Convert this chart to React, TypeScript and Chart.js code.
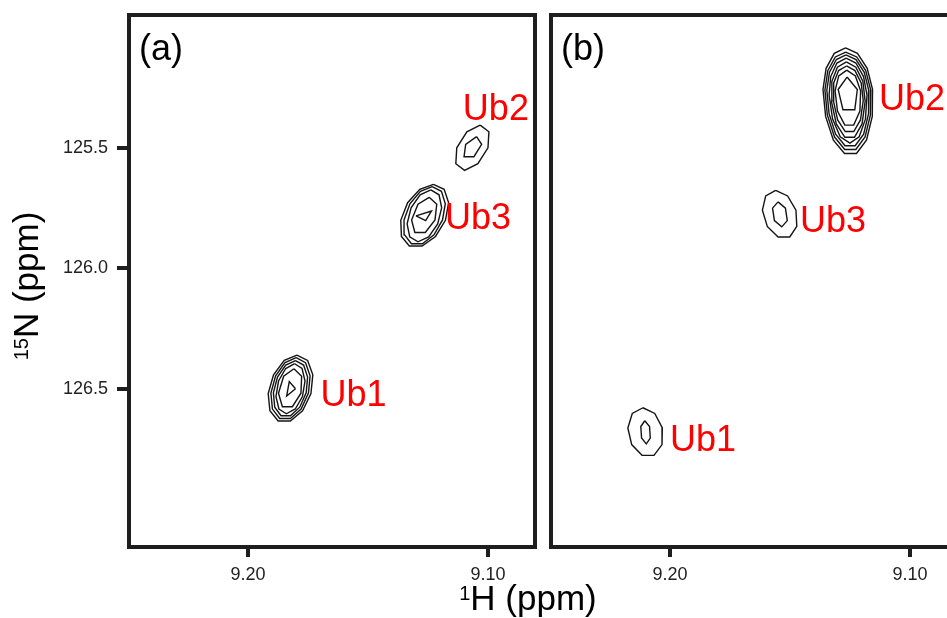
import React, { useEffect, useRef } from "react";
import { Chart, registerables } from "chart.js";

Chart.register(...registerables);

// ---- axis windows and ticks (ppm) ----
const H_MIN = 9.0804;
const H_MAX = 9.2496;
const N_MIN = 124.946;
const N_MAX = 127.158;
const H_TICKS = [9.2, 9.1];
const H_TICK_LABELS = ["9.20", "9.10"];
const N_TICKS = [125.5, 126.0, 126.5];
const N_TICK_LABELS = ["125.5", "126.0", "126.5"];

const PEAK_NAMES = ["Ub1", "Ub2", "Ub3"];

// ---- spectrum (a): peak centres (1H, 15N) and lean of the contours ----
const A_H = [9.1823, 9.1065, 9.1265];
const A_N = [126.5, 125.498, 125.781];
const A_SHEAR = [0.3, 0.5, 0.4];

// ---- spectrum (b) ----
const B_H = [9.2102, 9.1258, 9.1542];
const B_N = [126.681, 125.279, 125.775];
const B_SHEAR = [-0.15, -0.1, -0.25];

// contour rings: [half-width 1H, half-height 15N upfield, half-height 15N downfield, vertices, start angle°]
type Ring = [number, number, number, number, number];

const A_UB1_RINGS: Ring[] = [
  [0.009, 0.14, 0.14, 11, -90],
  [0.0079, 0.129, 0.129, 11, -90],
  [0.0069, 0.117, 0.117, 11, -90],
  [0.0058, 0.104, 0.104, 10, -90],
  [0.0048, 0.083, 0.083, 7, -90],
  [0.0021, 0.035, 0.035, 3, 0],
];
const A_UB2_RINGS: Ring[] = [
  [0.0065, 0.094, 0.094, 8, -90],
  [0.0035, 0.046, 0.046, 5, -90],
];
const A_UB3_RINGS: Ring[] = [
  [0.0094, 0.131, 0.131, 11, -90],
  [0.0081, 0.121, 0.121, 11, -90],
  [0.0067, 0.108, 0.108, 10, -90],
  [0.005, 0.077, 0.077, 7, -90],
  [0.0035, 0.023, 0.023, 3, 180],
];

const B_UB1_RINGS: Ring[] = [
  [0.0073, 0.102, 0.102, 9, -90],
  [0.0021, 0.048, 0.048, 6, -90],
];
const B_UB2_RINGS: Ring[] = [
  [0.0104, 0.196, 0.25, 13, -90],
  [0.0096, 0.179, 0.233, 13, -90],
  [0.0088, 0.167, 0.217, 13, -90],
  [0.0079, 0.154, 0.2, 12, -90],
  [0.0071, 0.138, 0.183, 11, -90],
  [0.0063, 0.121, 0.158, 11, -90],
  [0.0054, 0.104, 0.133, 9, -90],
  [0.0042, 0.075, 0.075, 5, -90],
];
const B_UB3_RINGS: Ring[] = [
  [0.0071, 0.1, 0.1, 9, -90],
  [0.0031, 0.052, 0.052, 6, -90],
];

const A_RINGS = [A_UB1_RINGS, A_UB2_RINGS, A_UB3_RINGS];
const B_RINGS = [B_UB1_RINGS, B_UB2_RINGS, B_UB3_RINGS];

// ---- styling ----
const FONT = '"Liberation Sans", Arial, Helvetica, sans-serif';
const INK = "#141414";
// peak label offsets from the peak centre, in pixels [dx, dy to baseline]
const A_LABEL_OFFSETS = [
  [30, 17],
  [-9.5, -27.5],
  [20.5, 13.5],
];
const B_LABEL_OFFSETS = [
  [24.5, 18.5],
  [31, 15],
  [20, 18],
];

function ringPoints(cx: number, cy: number, ring: Ring, shear: number) {
  const [rx, ryUp, ryDown, n, startDeg] = ring;
  const start = (startDeg * Math.PI) / 180;
  const pts: { x: number; y: number }[] = [];
  for (let i = 0; i <= n; i++) {
    const t = start + (2 * Math.PI * i) / n;
    const c = Math.cos(t);
    const s = Math.sin(t);
    const ry = s < 0 ? ryUp : ryDown;
    const ux = c - shear * s;
    pts.push({ x: cx - rx * ux, y: cy + ry * s });
  }
  return pts;
}

function buildDatasets(hs: number[], ns: number[], shears: number[], rings: Ring[][]) {
  const sets: any[] = [];
  hs.forEach((h, p) => {
    rings[p].forEach((ring, r) => {
      sets.push({
        label: `${PEAK_NAMES[p]}-${r}`,
        data: ringPoints(h, ns[p], ring, shears[p]),
        showLine: true,
        borderColor: INK,
        borderWidth: 1.4,
        pointRadius: 0,
        fill: false,
        tension: 0,
      });
    });
  });
  return sets;
}

function framePlugin() {
  return {
    id: "frame",
    afterDraw(chart: any) {
      const { ctx, chartArea: a } = chart;
      ctx.save();
      ctx.strokeStyle = "#1e1e1e";
      ctx.lineWidth = 4;
      ctx.lineJoin = "miter";
      ctx.strokeRect(a.left, a.top, a.right - a.left, a.bottom - a.top);
      ctx.restore();
    },
  };
}

function labelPlugin(letter: string, hs: number[], ns: number[], offsets: number[][]) {
  return {
    id: "peakLabels",
    afterDraw(chart: any) {
      const { ctx, chartArea: a, scales } = chart;
      ctx.save();
      ctx.textBaseline = "alphabetic";
      ctx.textAlign = "left";
      ctx.fillStyle = "#ff0000";
      ctx.font = `36px ${FONT}`;
      hs.forEach((h, i) => {
        const x = scales.x.getPixelForValue(h) + offsets[i][0];
        const y = scales.y.getPixelForValue(ns[i]) + offsets[i][1];
        ctx.fillText(PEAK_NAMES[i], x, y);
      });
      ctx.fillStyle = "#000";
      ctx.fillText(letter, a.left + 10, a.top + 44.5);
      ctx.restore();
    },
  };
}

function drawSupText(ctx: CanvasRenderingContext2D, sup: string, main: string, cx: number, baseline: number) {
  ctx.font = `20px ${FONT}`;
  const ws = ctx.measureText(sup).width;
  ctx.font = `35px ${FONT}`;
  const wm = ctx.measureText(main).width;
  const x0 = cx - (ws + wm) / 2;
  ctx.font = `20px ${FONT}`;
  ctx.fillText(sup, x0, baseline - 10);
  ctx.font = `35px ${FONT}`;
  ctx.fillText(main, x0 + ws, baseline);
}

const titlePlugin = {
  id: "axisTitles",
  afterDraw(chart: any) {
    const ctx = chart.ctx as CanvasRenderingContext2D;
    ctx.save();
    ctx.fillStyle = "#000";
    ctx.textBaseline = "alphabetic";
    ctx.textAlign = "left";
    drawSupText(ctx, "1", "H (ppm)", 528, 610);
    ctx.translate(38, 286);
    ctx.rotate(-Math.PI / 2);
    drawSupText(ctx, "15", "N (ppm)", 0, 0);
    ctx.restore();
  },
};

function scalesFor(showN: boolean) {
  return {
    x: {
      type: "linear",
      reverse: true,
      min: H_MIN,
      max: H_MAX,
      afterBuildTicks: (s: any) => {
        s.ticks = H_TICKS.map((v) => ({ value: v }));
      },
      afterFit: (s: any) => {
        s.height = 71;
        s.paddingLeft = 0;
        s.paddingRight = 0;
      },
      ticks: {
        callback: (_v: any, i: number) => H_TICK_LABELS[i],
        font: { family: FONT, size: 18 },
        color: "#222",
        padding: 7,
        maxRotation: 0,
        autoSkip: false,
      },
      grid: {
        drawOnChartArea: false,
        drawTicks: true,
        tickLength: 10,
        tickWidth: 4,
        lineWidth: 4,
        tickColor: "#1e1e1e",
      },
      border: { display: false },
    },
    y: {
      type: "linear",
      reverse: true,
      display: showN,
      min: N_MIN,
      max: N_MAX,
      afterBuildTicks: (s: any) => {
        s.ticks = N_TICKS.map((v) => ({ value: v }));
      },
      afterFit: (s: any) => {
        s.width = showN ? 129 : 0;
        s.paddingTop = 0;
        s.paddingBottom = 0;
      },
      ticks: {
        callback: (_v: any, i: number) => N_TICK_LABELS[i],
        font: { family: FONT, size: 18 },
        color: "#222",
        padding: 9,
        autoSkip: false,
      },
      grid: {
        drawOnChartArea: false,
        drawTicks: true,
        tickLength: 12,
        tickWidth: 4,
        lineWidth: 4,
        tickColor: "#1e1e1e",
      },
      border: { display: false },
    },
  };
}

function makeChart(
  canvas: HTMLCanvasElement,
  datasets: any[],
  padding: any,
  showN: boolean,
  plugins: any[]
) {
  return new Chart(canvas, {
    type: "scatter",
    data: { datasets },
    options: {
      responsive: false,
      animation: false,
      devicePixelRatio: 1,
      layout: { padding },
      plugins: { legend: { display: false }, tooltip: { enabled: false } },
      scales: scalesFor(showN) as any,
    },
    plugins,
  });
}

export default function App() {
  const refA = useRef<HTMLCanvasElement>(null);
  const refB = useRef<HTMLCanvasElement>(null);

  useEffect(() => {
    const chartA = makeChart(
      refA.current!,
      buildDatasets(A_H, A_N, A_SHEAR, A_RINGS),
      { top: 15, right: 75, left: 0, bottom: 0 },
      true,
      [framePlugin(), labelPlugin("(a)", A_H, A_N, A_LABEL_OFFSETS), titlePlugin]
    );
    const chartB = makeChart(
      refB.current!,
      buildDatasets(B_H, B_N, B_SHEAR, B_RINGS),
      { top: 15, right: 8, left: 6, bottom: 0 },
      false,
      [framePlugin(), labelPlugin("(b)", B_H, B_N, B_LABEL_OFFSETS)]
    );
    return () => {
      chartA.destroy();
      chartB.destroy();
    };
  }, []);

  return (
    <div
      style={{
        position: "fixed",
        left: 0,
        top: 0,
        width: 947,
        height: 618,
        overflow: "hidden",
        background: "#fff",
      }}
    >
      <canvas
        ref={refA}
        width={610}
        height={618}
        style={{ position: "absolute", left: 0, top: 0, width: 610, height: 618 }}
      />
      <canvas
        ref={refB}
        width={420}
        height={618}
        style={{ position: "absolute", left: 545, top: 0, width: 420, height: 618 }}
      />
    </div>
  );
}
